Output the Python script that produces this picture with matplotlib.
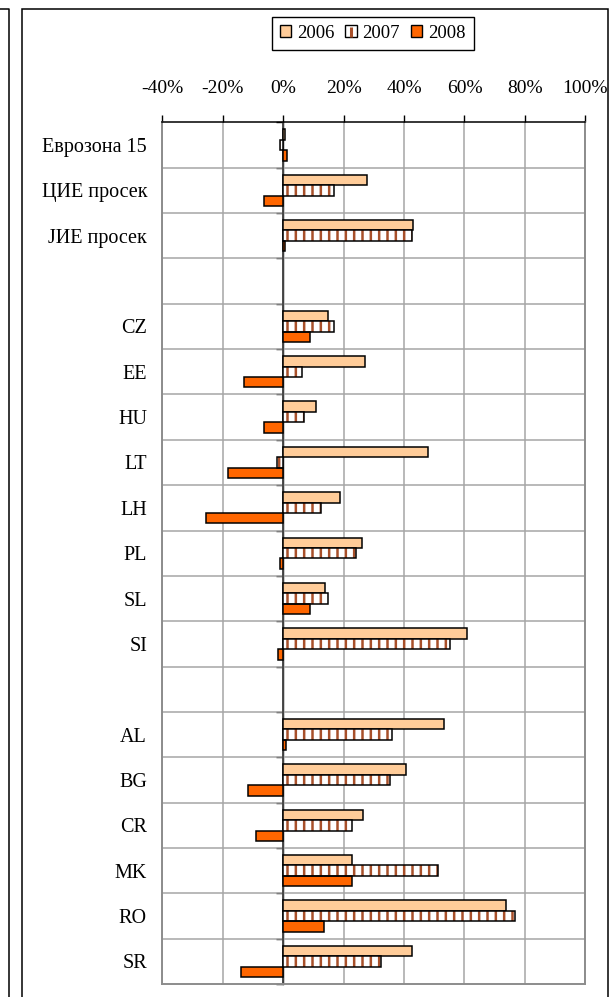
import numpy as np
import matplotlib.pyplot as plt
from matplotlib.patches import Patch, Rectangle
from matplotlib.lines import Line2D

plt.rcParams['font.family'] = ['Liberation Serif', 'DejaVu Serif']
plt.rcParams['hatch.linewidth'] = 1.8

##### DATA #####
nan = np.nan
countries = ['Еврозона 15', 'ЦИЕ просек', 'ЈИЕ просек', '',
             'CZ', 'EE', 'HU', 'LT', 'LH', 'PL', 'SL', 'SI', '',
             'AL', 'BG', 'CR', 'MK', 'RO', 'SR']
y2006 = [0.6, 27.6, 43.1, nan,
         14.7, 27.2, 10.8, 48.1, 18.7, 26.1, 14.0, 60.7, nan,
         53.1, 40.6, 26.5, 22.8, 73.7, 42.8]
y2007 = [-1.1, 16.9, 42.5, nan,
         16.9, 6.2, 7.0, -2.2, 12.6, 24.2, 14.7, 55.3, nan,
         36.0, 35.4, 22.9, 51.3, 76.7, 32.5]
y2008 = [1.4, -6.4, 0.5, nan,
         8.9, -13.1, -6.4, -18.4, -25.6, -1.1, 8.9, -1.8, nan,
         1.1, -11.7, -8.9, 22.9, 13.5, -14.1]
xticks = [-40, -20, 0, 20, 40, 60, 80, 100]

c2006 = '#FFCC99'
c2007 = '#A8502A'
c2008 = '#FF6600'

fig = plt.figure(figsize=(6.10, 9.97), dpi=100)
ax = fig.add_axes([0.2661, 0.0130, 0.6934, 0.8643])

pos = np.arange(len(countries))
h = 0.23
ax.barh(pos - h, y2006, height=h, color=c2006, edgecolor='black', linewidth=1.1, zorder=3)
ax.barh(pos, y2007, height=h, color='white', edgecolor=c2007, hatch='||', linewidth=0, zorder=3)
ax.barh(pos, y2007, height=h, fill=False, edgecolor='black', linewidth=1.1, zorder=4)
ax.barh(pos + h, y2008, height=h, color=c2008, edgecolor='black', linewidth=1.1, zorder=3)

xmin, xmax = -40, 100
ax.set_xlim(xmin, xmax)
ax.set_ylim(len(countries) - 0.5, -0.5)

##### TICKS #####
ax.xaxis.tick_top()
ax.set_xticks(xticks)
ax.set_xticklabels([f'{v}%' for v in xticks])
ax.tick_params(axis='x', direction='out', length=5, width=1, pad=13, labelsize=14)

ax.set_yticks(pos)
ax.set_yticklabels(countries)
ax.set_yticks(np.arange(0.5, len(countries) - 1, 1), minor=True)
ax.tick_params(axis='y', which='both', length=0, pad=11, labelsize=14.5)

ax.grid(which='major', axis='x', color='#a6a6a6', linewidth=1.1, zorder=0)
ax.grid(which='minor', axis='y', color='#a6a6a6', linewidth=1.1, zorder=0)
ax.set_axisbelow(True)

for side in ['left', 'right', 'bottom']:
    ax.spines[side].set_color('#8c8c8c')
    ax.spines[side].set_linewidth(1.4)
ax.spines['top'].set_color('black')
ax.spines['top'].set_linewidth(1.1)

# category axis sitting on the zero line
ax.axvline(0, color='#303030', linewidth=1.1, zorder=2.5)
zero = ax.secondary_yaxis((0 - xmin) / (xmax - xmin))
zero.set_yticks(np.arange(-0.5, len(countries), 1))
zero.set_yticklabels([])
zero.tick_params(direction='out', length=5, width=1, color='black')
zero.spines['left'].set_color('black')
zero.spines['left'].set_linewidth(1.0)

##### LEGEND #####
handles = [Patch(facecolor=c2006, edgecolor='black', linewidth=1.0),
           (Patch(facecolor='white', edgecolor='black', linewidth=1.0),
            Line2D([], [], marker='|', linestyle='none', color=c2007,
                   markersize=7, markeredgewidth=2.2)),
           Patch(facecolor=c2008, edgecolor='black', linewidth=1.0)]
leg = fig.legend(handles, ['2006', '2007', '2008'], loc='center',
                 bbox_to_anchor=(0.611, 0.9664), ncol=3, fontsize=13.5,
                 handlelength=0.6, handleheight=0.6, handletextpad=0.3,
                 columnspacing=0.6, borderpad=0.45, fancybox=False,
                 edgecolor='black', framealpha=1)
leg.get_frame().set_linewidth(1.0)

##### FRAMES #####
fig.add_artist(Rectangle((21.5 / 610, -0.02), (607.5 - 21.5) / 610, 1 - 9.5 / 997 + 0.02,
                         transform=fig.transFigure, fill=False, edgecolor='black', linewidth=1.1))
fig.add_artist(Line2D([0, 8.5 / 610, 8.5 / 610], [1 - 9.5 / 997, 1 - 9.5 / 997, -0.02],
                      transform=fig.transFigure, color='black', linewidth=1.1))

plt.savefig('out.png', dpi=100)
